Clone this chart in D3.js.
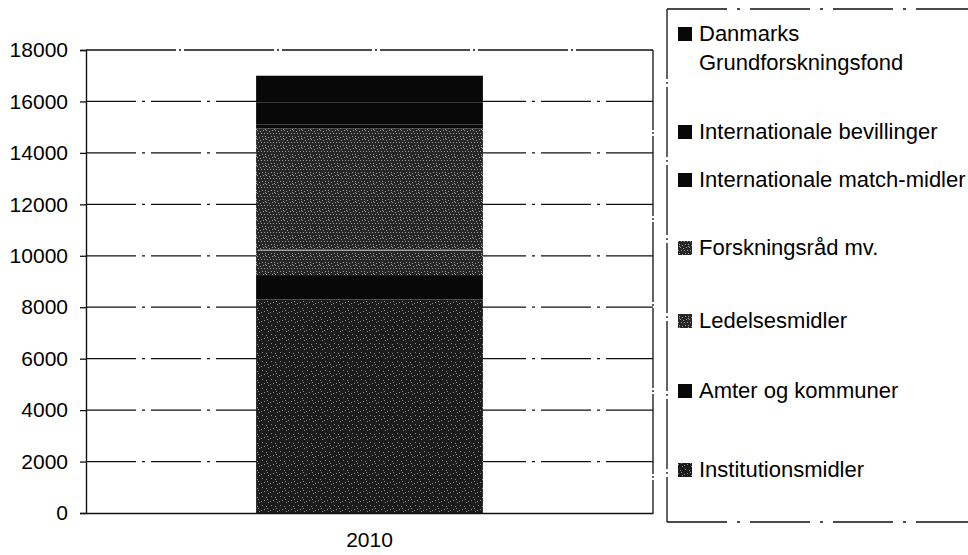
<!DOCTYPE html>
<html>
<head>
<meta charset="utf-8">
<script src="https://cdn.jsdelivr.net/npm/d3@7/dist/d3.min.js"></script>
<style>
  html, body { margin: 0; padding: 0; background: #fff; }
  svg { display: block; font-family: "Liberation Sans", Arial, sans-serif; }
</style>
</head>
<body>
<svg id="chart" width="968" height="555"></svg>
<script>
// ---- Data ----
const categories = ["2010"];
const seriesNames = [
  "Institutionsmidler",
  "Amter og kommuner",
  "Ledelsesmidler",
  "Forskningsråd mv.",
  "Internationale match-midler",
  "Internationale bevillinger",
  "Danmarks Grundforskningsfond"
];
const seriesValues = [8300, 950, 950, 4750, 150, 850, 1050];
const yTicks = [0, 2000, 4000, 6000, 8000, 10000, 12000, 14000, 16000, 18000];

// ---- Styles ----
const fills = {
  "Institutionsmidler": "url(#texA)",
  "Amter og kommuner": "#080808",
  "Ledelsesmidler": "url(#texB)",
  "Forskningsråd mv.": "url(#texB)",
  "Internationale match-midler": "#080808",
  "Internationale bevillinger": "#080808",
  "Danmarks Grundforskningsfond": "#080808"
};

const svg = d3.select("#chart");
const plot = { left: 86, right: 653, top: 50, bottom: 513 };

// texture patterns (scanned look)
const defs = svg.append("defs");
function makePattern(id, base, dots, col) {
  const p = defs.append("pattern").attr("id", id)
    .attr("patternUnits", "userSpaceOnUse").attr("width", 9).attr("height", 9);
  p.append("rect").attr("width", 9).attr("height", 9).attr("fill", base);
  dots.forEach(d => p.append("rect").attr("x", d[0]).attr("y", d[1])
    .attr("width", 1).attr("height", 1).attr("fill", col));
}
makePattern("texA", "#1c1c1c", [[1,1],[5,2],[3,5],[7,7],[0,6],[6,4]], "#8a8a8a");
makePattern("texB", "#262626", [[1,1],[4,1],[7,2],[2,4],[5,4],[8,5],[0,7],[3,7],[6,7],[4,3]], "#9a9a9a");

const x = d3.scaleBand().domain(categories).range([plot.left, plot.right])
  .paddingInner(0.6).paddingOuter(0.3);
const y = d3.scaleLinear().domain([0, 18000]).range([plot.bottom, plot.top]);

// gridlines
svg.append("g").selectAll("line").data(yTicks.filter(t => t > 0 && t < 18000)).join("line")
  .attr("x1", plot.left).attr("x2", plot.right)
  .attr("y1", d => y(d)).attr("y2", d => y(d))
  .attr("stroke", "#111").attr("stroke-width", 1.3)
  .attr("stroke-dasharray", "50,6,3,6");

// frame
svg.append("line").attr("x1", plot.left).attr("x2", plot.right)
  .attr("y1", y(18000)).attr("y2", y(18000))
  .attr("stroke", "#111").attr("stroke-width", 1.3).attr("stroke-dasharray", "90,3,2,3");
svg.append("line").attr("x1", plot.right).attr("x2", plot.right)
  .attr("y1", plot.top).attr("y2", plot.bottom)
  .attr("stroke", "#111").attr("stroke-width", 1.3).attr("stroke-dasharray", "80,2,2,2");

// stacked bar
const row = {};
seriesNames.forEach((s, i) => row[s] = seriesValues[i]);
const stack = d3.stack().keys(seriesNames)([Object.assign({ cat: categories[0] }, row)]);
svg.append("g").selectAll("rect").data(stack).join("rect")
  .attr("x", x(categories[0]))
  .attr("width", x.bandwidth())
  .attr("y", d => y(d[0][1]))
  .attr("height", d => y(d[0][0]) - y(d[0][1]))
  .attr("fill", d => fills[d.key]);
// light separator lines like the scan
svg.append("g").selectAll("line").data(stack.filter(d => d.key === "Forskningsråd mv.")).join("line")
  .attr("x1", x(categories[0]) + 2).attr("x2", x(categories[0]) + x.bandwidth() - 2)
  .attr("y1", d => y(d[0][0]) - 0.5).attr("y2", d => y(d[0][0]) - 0.5)
  .attr("stroke", "#bbb").attr("stroke-width", 1);

// y axis
const yAxis = d3.axisLeft(y).tickValues(yTicks).tickSize(6).tickPadding(12)
  .tickFormat(d3.format("d"));
const gy = svg.append("g").attr("transform", `translate(${plot.left},0)`).call(yAxis);
gy.select(".domain").attr("stroke", "#111").attr("stroke-width", 1.4);
gy.selectAll(".tick line").attr("stroke", "#111").attr("stroke-width", 1.3);
gy.selectAll(".tick text").attr("font-size", 21).attr("fill", "#000")
  .attr("font-family", "Liberation Sans, Arial, sans-serif");

// x axis
const xAxis = d3.axisBottom(x).tickSize(0).tickPadding(19);
const gx = svg.append("g").attr("transform", `translate(0,${plot.bottom})`).call(xAxis);
gx.select(".domain").attr("stroke", "#111").attr("stroke-width", 1.4);
gx.selectAll(".tick text").attr("font-size", 21).attr("fill", "#000")
  .attr("font-family", "Liberation Sans, Arial, sans-serif");

// legend
const legend = { left: 667, top: 9, bottom: 522, textX: 699, markX: 678, mark: 14 };
const legendBaselines = [41, 139, 187, 255, 328, 398, 477];
const lg = svg.append("g");
lg.append("line").attr("x1", legend.left).attr("x2", legend.left)
  .attr("y1", legend.top).attr("y2", legend.bottom)
  .attr("stroke", "#111").attr("stroke-width", 1.3).attr("stroke-dasharray", "70,3,2,3");
lg.append("line").attr("x1", legend.left).attr("x2", 968)
  .attr("y1", legend.top).attr("y2", legend.top)
  .attr("stroke", "#111").attr("stroke-width", 1.3).attr("stroke-dasharray", "60,10,3,10");
lg.append("line").attr("x1", legend.left).attr("x2", 968)
  .attr("y1", legend.bottom).attr("y2", legend.bottom)
  .attr("stroke", "#111").attr("stroke-width", 1.3).attr("stroke-dasharray", "60,10,3,10");

const legendItems = seriesNames.slice().reverse();
const items = lg.selectAll("g.item").data(legendItems).join("g").attr("class", "item");
items.append("rect")
  .attr("x", legend.markX)
  .attr("y", (d, i) => legendBaselines[i] - legend.mark)
  .attr("width", legend.mark).attr("height", legend.mark)
  .attr("fill", d => fills[d]);
items.append("text")
  .attr("x", legend.textX)
  .attr("y", (d, i) => legendBaselines[i])
  .attr("font-size", 22).attr("fill", "#000")
  .each(function (d) {
    const t = d3.select(this);
    if (d === "Danmarks Grundforskningsfond") {
      t.append("tspan").attr("x", legend.textX).text("Danmarks");
      t.append("tspan").attr("x", legend.textX).attr("dy", 29).text("Grundforskningsfond");
    } else {
      t.text(d);
    }
  });
</script>
</body>
</html>
